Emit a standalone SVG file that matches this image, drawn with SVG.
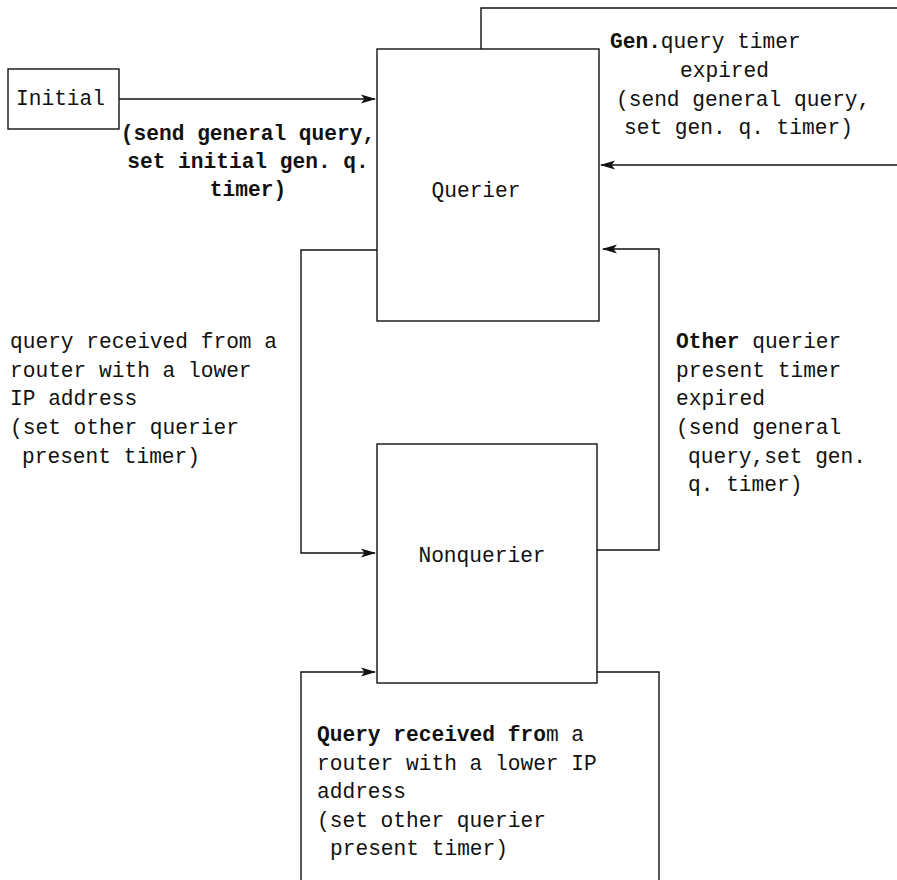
<svg xmlns="http://www.w3.org/2000/svg" width="897" height="880" viewBox="0 0 897 880">
  <style>
    .box { fill: #fff; stroke: #111; stroke-width: 1.4; }
    .wire { fill: none; stroke: #111; stroke-width: 1.4; }
    text { font-family: "Liberation Mono", "Courier New", monospace; font-size: 21.2px; fill: #111; }
    .b { font-weight: bold; }
    .narrow { font-size: 20.6px; }
  </style>
  <defs>
    <marker id="arrow" markerWidth="15" markerHeight="10" refX="14" refY="5" orient="auto" markerUnits="userSpaceOnUse">
      <path d="M0,0.5 L15,5 L0,9.5 L3.5,5 Z" fill="#111"/>
    </marker>
  </defs>
  <rect width="897" height="880" fill="#fff"/>

  <!-- connectors -->
  <g id="connectors">
    <path class="wire" d="M119,99 L375,99" marker-end="url(#arrow)"/>
    <path class="wire" d="M481,49 L481,8 L897,8"/>
    <path class="wire" d="M897,165 L601,165" marker-end="url(#arrow)"/>
    <path class="wire" d="M377,250 L301,250 L301,553 L375,553" marker-end="url(#arrow)"/>
    <path class="wire" d="M597,550 L659,550 L659,249 L603,249" marker-end="url(#arrow)"/>
    <path class="wire" d="M597,672 L659,672 L659,880"/>
    <path class="wire" d="M301,880 L301,672 L375,672" marker-end="url(#arrow)"/>
  </g>

  <!-- states -->
  <g id="initial">
    <rect class="box" x="8" y="69" width="111" height="60"/>
    <text x="16" y="105">Initial</text>
  </g>
  <g id="querier">
    <rect class="box" x="377" y="49" width="222" height="272"/>
    <text x="476" y="197" text-anchor="middle">Querier</text>
  </g>
  <g id="nonquerier">
    <rect class="box" x="377" y="444" width="220" height="239"/>
    <text x="482" y="562" text-anchor="middle">Nonquerier</text>
  </g>

  <!-- transition labels -->
  <g id="label-initial" class="b narrow">
    <text x="248" y="140" text-anchor="middle">(send general query,</text>
    <text x="248" y="168" text-anchor="middle">set initial gen. q.</text>
    <text x="248" y="196" text-anchor="middle">timer)</text>
  </g>
  <g id="label-gen-timer">
    <text x="610" y="48"><tspan class="b">Gen.</tspan>query timer</text>
    <text x="680" y="77">expired</text>
    <text x="616" y="106">(send general query,</text>
    <text x="624" y="134">set gen. q. timer)</text>
  </g>
  <g id="label-lower-ip">
    <text x="10" y="348">query received from a</text>
    <text x="10" y="377">router with a lower</text>
    <text x="10" y="405">IP address</text>
    <text x="10" y="434">(set other querier</text>
    <text x="22" y="463">present timer)</text>
  </g>
  <g id="label-other-expired">
    <text x="676" y="348"><tspan class="b">Other</tspan> querier</text>
    <text x="676" y="377">present timer</text>
    <text x="676" y="405">expired</text>
    <text x="676" y="434">(send general</text>
    <text x="688" y="463">query,set gen.</text>
    <text x="688" y="491">q. timer)</text>
  </g>
  <g id="label-self">
    <text x="317" y="741"><tspan class="b">Query received fro</tspan>m a</text>
    <text x="317" y="770">router with a lower IP</text>
    <text x="317" y="798">address</text>
    <text x="317" y="827">(set other querier</text>
    <text x="330" y="855">present timer)</text>
  </g>
</svg>
